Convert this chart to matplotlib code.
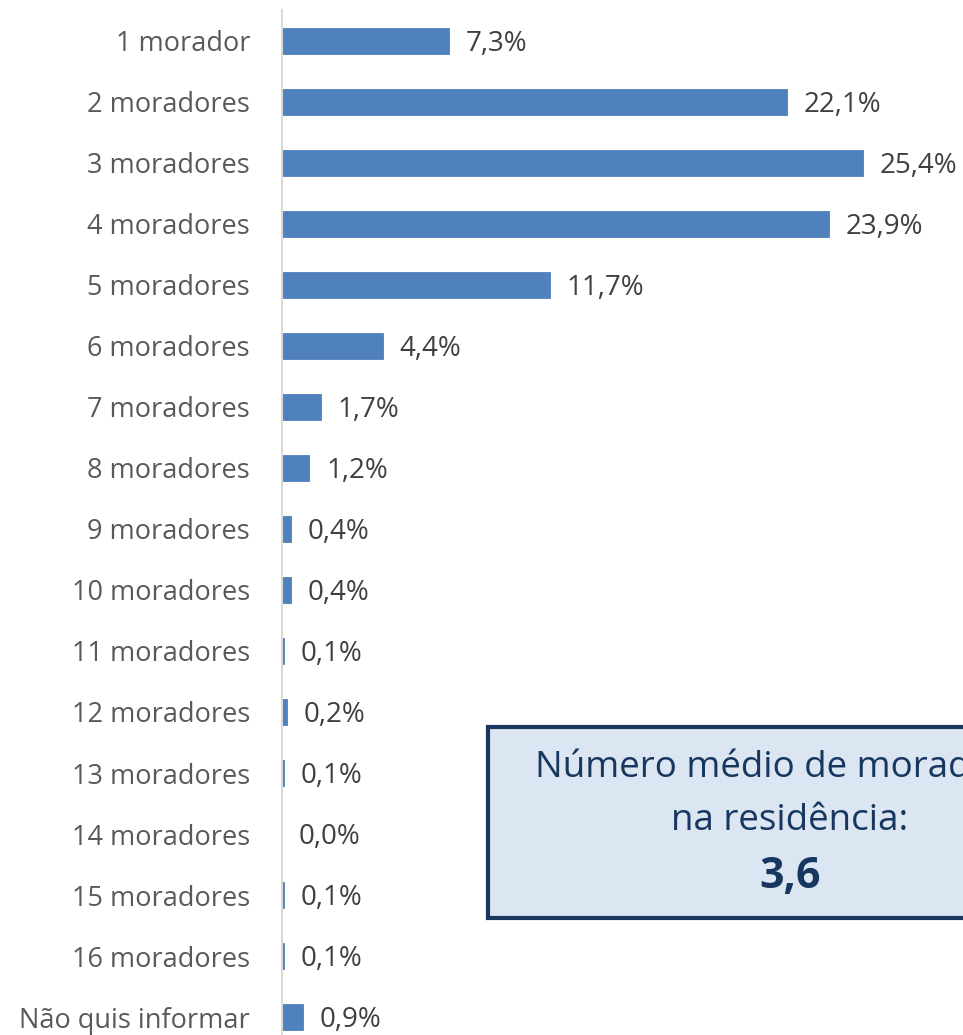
import matplotlib
matplotlib.use("Agg")
import matplotlib.pyplot as plt
from matplotlib.patches import Rectangle

categories = ["1 morador", "2 moradores", "3 moradores", "4 moradores", "5 moradores",
              "6 moradores", "7 moradores", "8 moradores", "9 moradores", "10 moradores",
              "11 moradores", "12 moradores", "13 moradores", "14 moradores", "15 moradores",
              "16 moradores", "Não quis informar"]
values = [7.3, 22.1, 25.4, 23.9, 11.7, 4.4, 1.7, 1.2, 0.4, 0.4, 0.1, 0.2, 0.1, 0.0, 0.1, 0.1, 0.9]
value_labels = ["7,3%", "22,1%", "25,4%", "23,9%", "11,7%", "4,4%", "1,7%", "1,2%", "0,4%", "0,4%",
                "0,1%", "0,2%", "0,1%", "0,0%", "0,1%", "0,1%", "0,9%"]
box_lines = ["Número médio de moradores", "na residência:"]
box_value = "3,6"

FONT = ["Open Sans", "DejaVu Sans"]
plt.rcParams['font.family'] = FONT

W, H = 963, 1035
fig = plt.figure(figsize=(W / 100, H / 100), dpi=100)
ax_left, ax_top, ax_bottom = 282, 10, 1035
ax = fig.add_axes([ax_left / W, (H - ax_bottom) / H, (W - ax_left) / W, (ax_bottom - ax_top) / H])

y = list(range(len(categories)))
ax.barh(y, values, height=0.43, color="#4F81BD", edgecolor="#4F81BD", linewidth=0.6)
ax.set_xlim(0, (W - ax_left) / 22.87)
ax.set_ylim(16.295, -0.508)
ax.set_yticks(y)
ax.set_yticklabels(categories, fontsize=19.5, color="#595959")
ax.tick_params(axis="y", length=0, pad=23)
ax.set_xticks([])
for s in ["top", "right", "bottom"]:
    ax.spines[s].set_visible(False)
ax.spines["left"].set_color("#D9D9D9")
ax.spines["left"].set_linewidth(1.5)

for yi, v, lab in zip(y, values, value_labels):
    ax.annotate(lab, xy=(v, yi), xytext=(12, -2), textcoords="offset points",
                ha="left", va="center", fontsize=20, color="#404040")

# Info box
bx0, bx1, by0, by1 = 488, 1092, 727, 918
rect = Rectangle((bx0 / W, (H - by1) / H), (bx1 - bx0) / W, (by1 - by0) / H,
                 transform=fig.transFigure, facecolor="#DCE6F2", edgecolor="#17375E",
                 linewidth=3, zorder=5)
fig.add_artist(rect)
cx = 790 / W
fig.text(cx, (H - 768) / H, box_lines[0], ha="center", va="center", fontsize=26.5,
         color="#17375E", zorder=6)
fig.text(cx, (H - 821) / H, box_lines[1], ha="center", va="center", fontsize=26.5,
         color="#17375E", zorder=6)
fig.text(cx, (H - 876) / H, box_value, ha="center", va="center", fontsize=31,
         fontweight="bold", color="#17375E", zorder=6)

fig.savefig("out.png", dpi=100)
